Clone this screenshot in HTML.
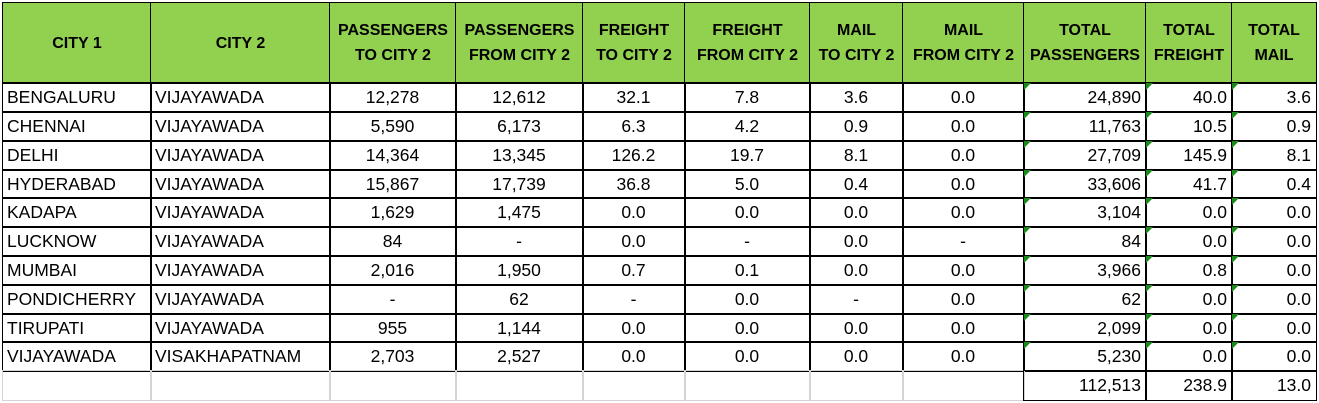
<!DOCTYPE html>
<html><head><meta charset="utf-8">
<style>
body{margin:0;width:1319px;height:403px;background:#fff;overflow:hidden;font-family:"Liberation Sans",sans-serif;}
#t{position:absolute;left:0;top:0;width:1319px;height:403px;}
.c{position:absolute;box-sizing:border-box;font-size:17.5px;color:#000;white-space:nowrap;overflow:hidden;display:flex;align-items:center;}
.h{background:#92D050;font-weight:bold;font-size:16px;justify-content:center;text-align:center;line-height:25px;border:1px solid #000;}
.d{border:1px solid #000;padding:0 5px 0 4px;}
.l{justify-content:flex-start;}
.ce{justify-content:center;}
.r{justify-content:flex-end;}
.g{border:1px solid #d4d4d4;}
.tri{position:absolute;left:0;top:0;width:0;height:0;border-top:7px solid #1a8a1a;border-right:7px solid transparent;}
</style></head><body>
<div id="t"></div>
<script>
const headers=["CITY 1","CITY 2","PASSENGERS<br>TO CITY 2","PASSENGERS<br>FROM CITY 2","FREIGHT<br>TO CITY 2","FREIGHT<br>FROM CITY 2","MAIL<br>TO CITY 2","MAIL<br>FROM CITY 2","TOTAL<br>PASSENGERS","TOTAL<br>FREIGHT","TOTAL<br>MAIL"];
const rows=[
["BENGALURU","VIJAYAWADA","12,278","12,612","32.1","7.8","3.6","0.0","24,890","40.0","3.6"],
["CHENNAI","VIJAYAWADA","5,590","6,173","6.3","4.2","0.9","0.0","11,763","10.5","0.9"],
["DELHI","VIJAYAWADA","14,364","13,345","126.2","19.7","8.1","0.0","27,709","145.9","8.1"],
["HYDERABAD","VIJAYAWADA","15,867","17,739","36.8","5.0","0.4","0.0","33,606","41.7","0.4"],
["KADAPA","VIJAYAWADA","1,629","1,475","0.0","0.0","0.0","0.0","3,104","0.0","0.0"],
["LUCKNOW","VIJAYAWADA","84","-","0.0","-","0.0","-","84","0.0","0.0"],
["MUMBAI","VIJAYAWADA","2,016","1,950","0.7","0.1","0.0","0.0","3,966","0.8","0.0"],
["PONDICHERRY","VIJAYAWADA","-","62","-","0.0","-","0.0","62","0.0","0.0"],
["TIRUPATI","VIJAYAWADA","955","1,144","0.0","0.0","0.0","0.0","2,099","0.0","0.0"],
["VIJAYAWADA","VISAKHAPATNAM","2,703","2,527","0.0","0.0","0.0","0.0","5,230","0.0","0.0"]];
const totals=["112,513","238.9","13.0"];
const cx=[2,151,330,456,583,685,810,903,1024,1146,1232,1316];
const ry=[2,83,112,141,170,198,227,256,285,314,342,371,400];
const T=document.getElementById('t');
function cell(ci,ri,cls,html){
  const e=document.createElement('div');
  e.className='c '+cls;
  e.style.left=(cx[ci]-(ci>0?1:0))+'px';
  e.style.top=(ry[ri]-(ri>0?1:0))+'px';
  e.style.width=(cx[ci+1]-cx[ci]+(ci>0?1:0)+1)+'px';
  e.style.height=(ry[ri+1]-ry[ri]+(ri>0?1:0)+1)+'px';
  e.innerHTML=html;
  T.appendChild(e);
  return e;
}
headers.forEach((h,i)=>{
  const e=cell(i,0,'h',h);
  
  
});
rows.forEach((r,ri)=>{
  r.forEach((v,ci)=>{
    let cls='d '+(ci<2?'l':(ci<8?'ce':'r'));
    const e=cell(ci,ri+1,cls,v);
    
    
    if(ci>=8){const t=document.createElement('div');t.className='tri';
      
      
      e.appendChild(t);}
  });
});
for(let ci=0;ci<11;ci++){
  if(ci>=8){
    const e=cell(ci,11,'d r',totals[ci-8]);
    
    
  }else{
    const e=cell(ci,11,'g','');
    
    
  }
}
</script>
</body></html>
